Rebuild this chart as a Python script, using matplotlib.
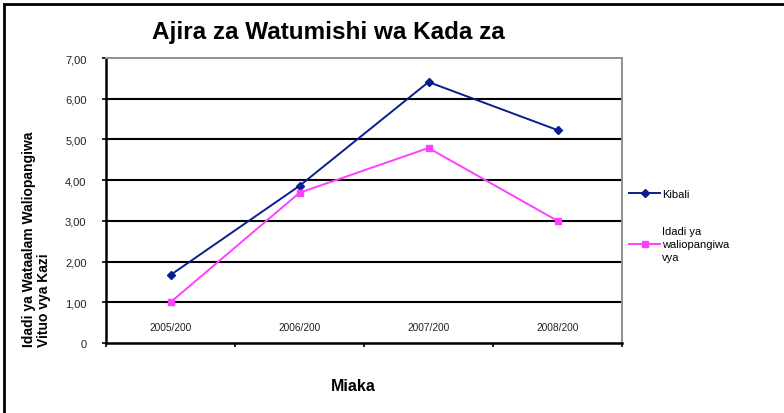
import matplotlib
matplotlib.use("Agg")
import matplotlib.pyplot as plt
from matplotlib.patches import Rectangle

plt.rcParams['font.family'] = ['Liberation Sans', 'DejaVu Sans']

# Data
years = ["2005/200", "2006/200", "2007/200", "2008/200"]
kibali = [1.67, 3.86, 6.41, 5.23]
waliopangiwa = [1.00, 3.69, 4.79, 3.00]
y_ticks = [0, 1, 2, 3, 4, 5, 6, 7]
y_tick_labels = ["0", "1,00", "2,00", "3,00", "4,00", "5,00", "6,00", "7,00"]

fig = plt.figure(figsize=(7.84, 4.14), dpi=100)
ax = fig.add_axes([106 / 784, 1 - 344 / 414, 516 / 784, 285 / 414])

x = list(range(len(years)))

ax.plot(x, kibali, color="#0a1f8f", linewidth=1.4, marker="D",
        markersize=4.5, label="Kibali", zorder=3)
ax.plot(x, waliopangiwa, color="#ff40ff", linewidth=1.4, marker="s",
        markersize=5, label="Idadi ya\nwaliopangiwa\nvya", zorder=3)

# Axis limits and ticks
ax.set_xlim(-0.5, len(years) - 0.5)
ax.set_ylim(0, 7)
ax.set_yticks(y_ticks)
ax.set_yticklabels(y_tick_labels)
ax.set_xticks([i - 0.5 for i in range(len(years) + 1)])
ax.set_xticklabels([])
ax.tick_params(axis="y", length=3, width=1.2, pad=11, labelsize=8,
               labelcolor="#222222")
ax.tick_params(axis="x", length=3, width=1.2)

# Category labels sit inside the plot, above the axis
for i, lab in enumerate(years):
    ax.text(i, 0.4, lab, ha="center", va="center", fontsize=7.3, color="#222222")

# Horizontal gridlines
for v in y_ticks[1:-1]:
    ax.axhline(v, color="black", linewidth=1.5, zorder=1)

ax.spines["left"].set_linewidth(1.8)
ax.spines["bottom"].set_linewidth(1.8)
ax.spines["top"].set_color("#909090")
ax.spines["right"].set_color("#909090")
ax.spines["top"].set_linewidth(1.4)
ax.spines["right"].set_linewidth(1.4)

# Titles and labels
fig.text(328 / 784, 1 - 33 / 414, "Ajira za Watumishi wa Kada za",
         fontsize=17.5, fontweight="bold", ha="center", va="center")
fig.text(353 / 784, 1 - 387 / 414, "Miaka", fontsize=11.5,
         fontweight="bold", ha="center", va="center")
fig.text(22 / 784, 1 - 347 / 414, "Idadi ya Wataalam Waliopangiwa\nVituo vya Kazi",
         rotation=90, fontsize=10, fontweight="bold", ha="left", va="bottom",
         multialignment="left", linespacing=1.05)

leg = fig.legend(loc="upper left", bbox_to_anchor=(629 / 784, 1 - 190 / 414),
                 frameon=False, fontsize=8, handlelength=2.8, handletextpad=0.15,
                 borderpad=0, borderaxespad=0, labelspacing=2.4)
for t in leg.get_texts():
    t.set_linespacing(1.4)

# Outer frame of the chart area
fig.add_artist(Rectangle((4 / 784, -0.1), 1.2, 1 - 5 / 414 + 0.1,
                         transform=fig.transFigure, fill=False,
                         edgecolor="black", linewidth=2))

fig.savefig("out.png", dpi=100)
